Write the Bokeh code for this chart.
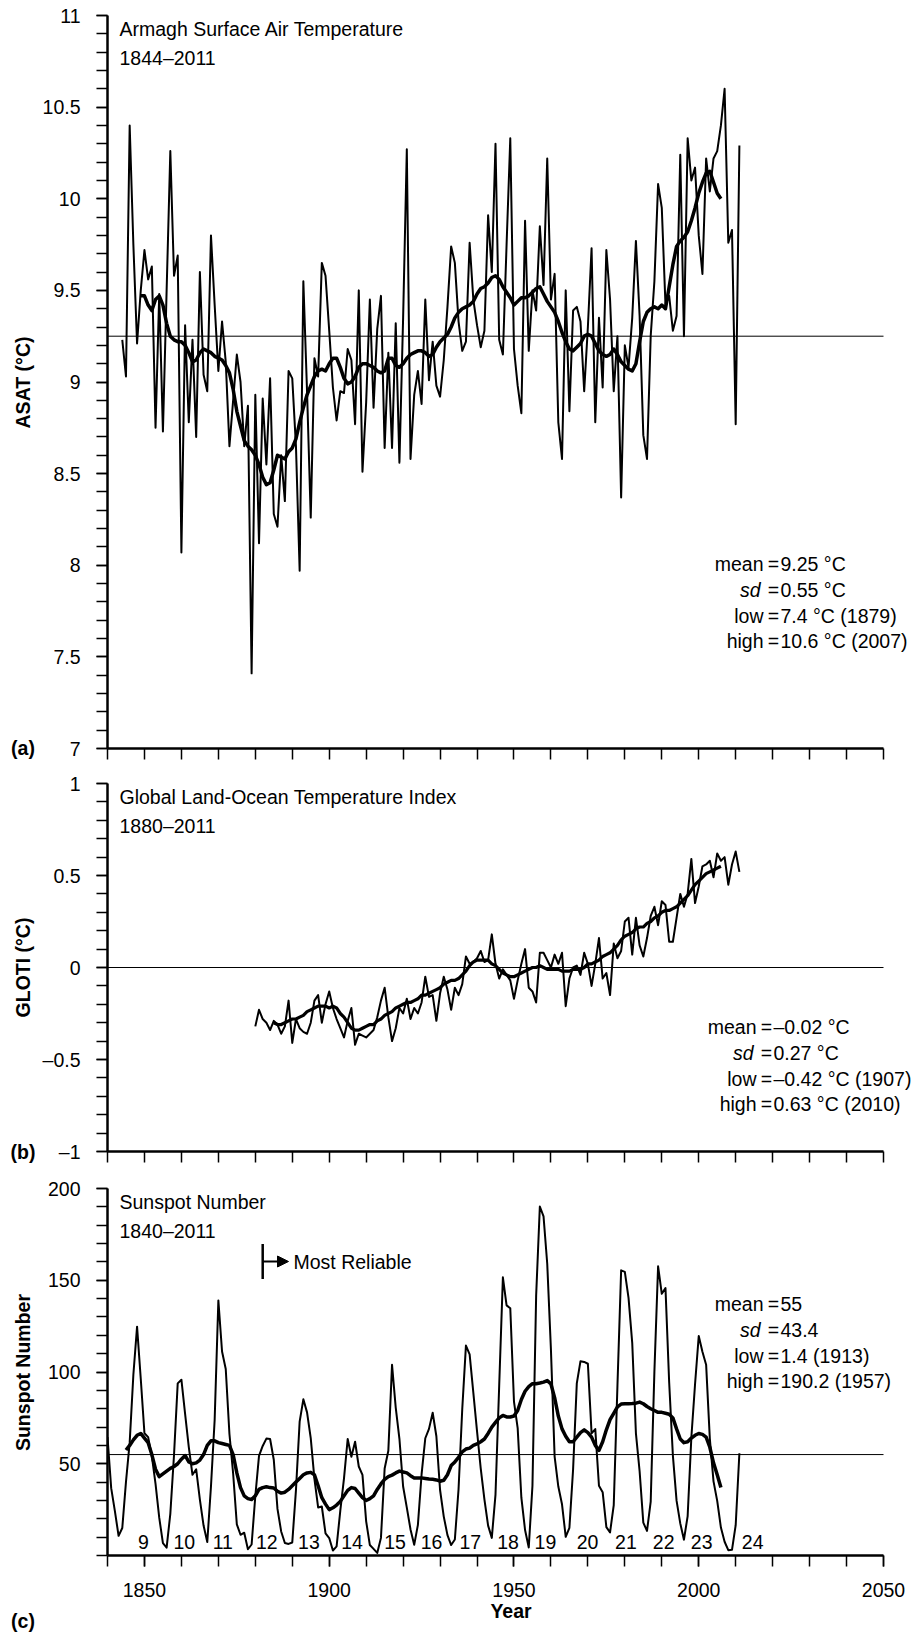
import math
from bokeh.plotting import figure
from bokeh.models import (Range1d, FixedTicker, Label, Arrow, NormalHead,
                          TeeHead, ColumnDataSource)
from bokeh.layouts import column, row
from bokeh.embed import file_html
from bokeh.resources import INLINE
from bokeh.core.properties import value

FONT = "Liberation Sans"

# ---------------- data ----------------
asat_years = list(range(1844, 2012))
asat = [
    9.23, 9.03, 10.40, 9.75, 9.21, 9.50,
    9.72, 9.56, 9.63, 8.75, 9.48, 8.73, 9.50, 10.26, 9.58, 9.69,
    8.07, 9.31, 8.78, 9.23, 8.70, 9.60, 9.04, 8.95, 9.80, 9.42,
    9.06, 9.33, 9.11, 8.65, 8.90, 9.15, 9.00, 8.65, 8.87, 7.41,
    8.93, 8.12, 8.91, 8.55, 9.02, 8.28, 8.21, 8.60, 8.35, 9.06,
    9.02, 8.65, 7.97, 9.55, 8.95, 8.26, 9.13, 9.03, 9.65, 9.58,
    9.28, 8.97, 8.79, 8.95, 8.94, 9.18, 9.12, 8.77, 9.50, 8.51,
    8.89, 9.45, 8.86, 9.29, 9.47, 8.64, 9.16, 8.64, 9.32, 8.56,
    9.35, 10.27, 8.58, 8.93, 9.06, 8.88, 9.45, 9.01, 9.22, 8.98,
    8.92, 9.12, 9.41, 9.74, 9.65, 9.33, 9.17, 9.22, 9.76, 9.45,
    9.31, 9.19, 9.28, 9.91, 9.60, 10.30, 9.23, 9.15, 9.75, 10.33,
    9.18, 8.98, 8.83, 9.88, 9.17, 9.50, 9.39, 9.85, 9.53, 10.22,
    9.45, 9.59, 8.78, 8.58, 9.50, 8.84, 9.39, 9.41, 9.33, 8.95,
    9.30, 9.73, 8.78, 9.35, 8.97, 9.72, 9.45, 8.95, 9.25, 8.37,
    9.20, 9.08, 9.35, 9.77, 9.36, 8.71, 8.58, 9.25, 9.55, 10.08,
    9.95, 9.42, 9.47, 9.28, 9.36, 10.24, 9.25, 10.33, 10.10, 10.17,
    9.80, 9.59, 10.22, 10.04, 10.22, 10.26, 10.40, 10.60, 9.76, 9.83,
    8.77, 10.29,
]
asat_smooth_years = list(range(1849, 2007))
asat_smooth = [
    9.47,
    9.47, 9.42, 9.39, 9.45, 9.47, 9.42, 9.32, 9.25, 9.23, 9.22,
    9.22, 9.20, 9.16, 9.11, 9.12, 9.16, 9.18, 9.17, 9.16, 9.14,
    9.13, 9.12, 9.09, 9.05, 8.96, 8.84, 8.76, 8.68, 8.65, 8.63,
    8.60, 8.55, 8.48, 8.44, 8.45, 8.52, 8.60, 8.59, 8.58, 8.62,
    8.64, 8.69, 8.78, 8.86, 8.93, 8.98, 9.03, 9.06, 9.07, 9.06,
    9.10, 9.13, 9.13, 9.08, 9.02, 8.99, 9.00, 9.03, 9.08, 9.10,
    9.10, 9.09, 9.08, 9.06, 9.05, 9.06, 9.13, 9.13, 9.09, 9.08,
    9.10, 9.13, 9.15, 9.16, 9.17, 9.17, 9.16, 9.14, 9.15, 9.19,
    9.22, 9.24, 9.26, 9.30, 9.35, 9.38, 9.40, 9.41, 9.42, 9.44,
    9.48, 9.51, 9.52, 9.54, 9.57, 9.58, 9.56, 9.52, 9.49, 9.46,
    9.42, 9.44, 9.46, 9.46, 9.47, 9.49, 9.51, 9.52, 9.48, 9.44,
    9.41, 9.38, 9.33, 9.27, 9.22, 9.18, 9.17, 9.19, 9.21, 9.25,
    9.26, 9.25, 9.21, 9.17, 9.15, 9.14, 9.15, 9.18, 9.15, 9.11,
    9.09, 9.07, 9.06, 9.10, 9.22, 9.33, 9.38, 9.40, 9.41, 9.40,
    9.42, 9.40, 9.52, 9.64, 9.74, 9.77, 9.79, 9.82, 9.88, 9.95,
    10.03, 10.09, 10.14, 10.15, 10.09, 10.03, 10.00,
]
asat_mean = 9.25
asat_stats = [("mean", "9.25 °C"), ("sd", "0.55 °C"),
              ("low", "7.4 °C (1879)"), ("high", "10.6 °C (2007)")]

gloti_years = list(range(1880, 2012))
gloti = [
    -0.32, -0.23, -0.28, -0.30, -0.34, -0.29, -0.31, -0.36, -0.32, -0.18,
    -0.41, -0.28, -0.33, -0.35, -0.36, -0.30, -0.18, -0.15, -0.30, -0.20,
    -0.13, -0.22, -0.28, -0.33, -0.38, -0.29, -0.22, -0.42, -0.36, -0.37,
    -0.38, -0.36, -0.34, -0.27, -0.18, -0.11, -0.27, -0.40, -0.33, -0.22,
    -0.25, -0.17, -0.28, -0.22, -0.25, -0.19, -0.05, -0.16, -0.15, -0.29,
    -0.14, -0.05, -0.12, -0.23, -0.11, -0.15, -0.09, 0.06, 0.02, 0.03,
    0.05, 0.09, 0.03, 0.04, 0.18, 0.02, -0.06, -0.01, -0.04, -0.07,
    -0.17, -0.07, 0.02, 0.10, -0.11, -0.13, -0.19, 0.08, 0.08, 0.04,
    0.00, 0.07, 0.02, 0.08, -0.21, -0.06, 0.00, 0.01, -0.04, 0.08,
    0.02, -0.10, 0.02, 0.16, -0.06, -0.03, -0.15, 0.13, 0.05, 0.09,
    0.25, 0.27, 0.07, 0.27, 0.12, 0.06, 0.16, 0.28, 0.33, 0.23,
    0.36, 0.34, 0.14, 0.14, 0.27, 0.40, 0.33, 0.40, 0.59, 0.35,
    0.44, 0.55, 0.56, 0.58, 0.49, 0.62, 0.58, 0.60, 0.45, 0.56,
    0.63, 0.52,
]
gloti_smooth_years = list(range(1885, 2007))
gloti_smooth = [
    -0.30, -0.31, -0.31, -0.30, -0.29,
    -0.28, -0.28, -0.27, -0.26, -0.24, -0.23, -0.22, -0.21, -0.21, -0.21,
    -0.22, -0.21, -0.22, -0.25, -0.27, -0.30, -0.33, -0.34, -0.34, -0.33,
    -0.32, -0.31, -0.31, -0.29, -0.28, -0.26, -0.25, -0.24, -0.22, -0.21,
    -0.20, -0.19, -0.19, -0.18, -0.17, -0.15, -0.15, -0.14, -0.13, -0.12,
    -0.11, -0.09, -0.08, -0.07, -0.07, -0.06, -0.04, -0.02, 0.01, 0.03,
    0.04, 0.04, 0.04, 0.04, 0.02, 0.01, -0.01, -0.03, -0.04, -0.05,
    -0.05, -0.04, -0.03, -0.02, -0.01, 0.00, 0.00, 0.01, 0.00, -0.01,
    -0.01, -0.01, -0.01, -0.02, -0.02, -0.02, -0.01, -0.01, -0.01, 0.00,
    0.02, 0.02, 0.03, 0.04, 0.06, 0.07, 0.08, 0.10, 0.12, 0.15,
    0.17, 0.18, 0.19, 0.21, 0.22, 0.22, 0.24, 0.25, 0.27, 0.28,
    0.30, 0.31, 0.31, 0.32, 0.33, 0.35, 0.37, 0.39, 0.42, 0.45,
    0.47, 0.49, 0.51, 0.52, 0.53, 0.54, 0.55,
]
gloti_ref = 0.0
gloti_stats = [("mean", "–0.02 °C"), ("sd", "0.27 °C"),
               ("low", "–0.42 °C (1907)"), ("high", "0.63 °C (2010)")]

ssn_years = list(range(1840, 2012))
ssn = [
    64.6, 36.7, 24.2, 10.7, 15.0, 40.1, 61.5, 98.5, 124.7, 96.3,
    66.6, 64.5, 54.1, 39.0, 20.6, 6.7, 4.3, 22.7, 54.8, 93.8,
    95.8, 77.2, 59.1, 44.0, 47.0, 30.5, 16.3, 7.3, 37.6, 74.0,
    139.0, 111.2, 101.6, 66.2, 44.7, 17.0, 11.3, 12.4, 3.4, 6.0,
    32.3, 54.3, 59.7, 63.7, 63.5, 52.2, 25.4, 13.1, 6.8, 6.3,
    7.1, 35.6, 73.0, 85.1, 78.0, 64.0, 41.8, 26.2, 26.7, 12.1,
    9.5, 2.7, 5.0, 24.4, 42.0, 63.5, 53.8, 62.0, 48.5, 43.9,
    18.6, 5.7, 3.6, 1.4, 9.6, 47.4, 57.1, 103.9, 80.6, 63.6,
    37.6, 26.1, 14.2, 5.8, 16.7, 44.3, 63.9, 69.0, 77.8, 65.0,
    35.7, 21.2, 11.1, 5.7, 8.7, 36.1, 79.7, 114.4, 109.6, 88.8,
    67.8, 47.5, 30.6, 16.3, 9.6, 33.2, 92.6, 151.6, 136.3, 134.7,
    83.9, 69.4, 31.5, 13.9, 4.4, 38.0, 141.7, 190.2, 184.8, 159.0,
    112.3, 53.9, 37.6, 27.9, 10.2, 15.1, 47.0, 93.8, 105.9, 105.5,
    104.5, 66.6, 68.9, 38.0, 34.5, 15.5, 12.6, 27.5, 92.5, 155.4,
    154.6, 140.4, 115.9, 66.6, 45.9, 17.9, 13.4, 29.4, 100.2, 157.6,
    142.6, 145.7, 94.3, 54.6, 29.9, 17.5, 8.6, 21.5, 64.3, 93.3,
    119.6, 111.0, 104.0, 63.7, 40.4, 29.8, 15.2, 7.5, 2.9, 3.1,
    16.5, 55.7,
]
ssn_smooth_years = list(range(1845, 2007))
ssn_smooth = [
    57.5, 60.0, 63.0, 65.5, 66.5,
    64.0, 61.5, 55.0, 47.0, 43.0, 44.5, 46.0, 47.5, 48.5, 50.0,
    52.5, 54.5, 51.0, 50.0, 50.5, 52.0, 55.0, 60.0, 62.5, 62.5,
    61.5, 61.0, 60.5, 60.0, 55.0, 45.0, 37.0, 32.5, 31.0, 30.5,
    32.5, 36.0, 37.0, 37.5, 37.0, 36.8, 35.0, 34.0, 34.5, 36.0,
    38.0, 40.0, 42.0, 44.0, 45.0, 45.3, 44.0, 38.0, 31.5, 28.0,
    25.0, 26.0, 27.5, 29.5, 32.5, 35.5, 37.0, 36.5, 34.0, 31.5,
    30.0, 31.0, 32.5, 36.0, 39.0, 41.5, 43.0, 43.8, 45.0, 46.0,
    45.5, 45.0, 43.5, 42.3, 42.3, 42.3, 42.0, 41.7, 41.5, 41.2,
    40.5, 41.0, 44.0, 49.0, 51.0, 53.5, 56.5, 58.0, 58.5, 60.0,
    60.8, 62.0, 63.5, 66.5, 70.0, 72.5, 75.0, 76.3, 75.5, 75.5,
    76.0, 79.0, 85.0, 89.5, 92.0, 93.6, 93.6, 94.0, 94.5, 95.3,
    93.5, 86.0, 76.0, 69.0, 65.0, 62.0, 62.0, 64.5, 67.0, 68.5,
    67.0, 64.5, 60.0, 57.3, 62.0, 68.5, 74.0, 77.5, 81.0, 82.5,
    82.7, 82.7, 82.8, 83.0, 83.6, 82.7, 81.2, 80.0, 79.0, 78.0,
    78.0, 77.5, 77.0, 75.0, 69.0, 63.5, 61.5, 62.0, 64.0, 65.5,
    66.5, 66.0, 64.5, 59.0, 50.5, 44.0, 37.0,
]
ssn_mean = 55
ssn_stats = [("mean", "55"), ("sd", "43.4"), ("low", "1.4 (1913)"),
             ("high", "190.2 (1957)")]
cycle_labels = ["9", "10", "11", "12", "13", "14", "15", "16", "17", "18",
                "19", "20", "21", "22", "23", "24"]
cycle_label_years = [1849.7, 1860.8, 1871.2, 1883.1, 1894.5, 1906.2, 1917.8,
                     1927.7, 1938.2, 1948.4, 1958.5, 1969.9, 1980.3, 1990.5,
                     2000.8, 2014.6]
reliable_year = 1882

x_major = [1850, 1900, 1950, 2000, 2050]
x_minor = list(range(1840, 2051, 10))

panel_tags = ["(a)", "(b)", "(c)"]
y_titles = ["ASAT (°C)", "GLOTI (°C)", "Sunspot Number"]

# ---------------- layout helpers ----------------
PAGE_W, PAGE_H = 914, 1633
GUT = 35                      # left gutter figure width
LEFT = 107 - GUT              # border left of main frames
MAIN_W = PAGE_W - GUT
X0, X1 = 1840, 2050
PX_PER_YEAR = 776 / (X1 - X0)
X_END = X0 + (PAGE_W - 107) / PX_PER_YEAR
TXT = "19.5px"
PAD = 10                      # frame space above the top tick


def px_x(px):
    return X0 + (px - 107) / PX_PER_YEAR


def make_fig(top, core_h, bottom, y0, y1, yticks, yminor, ylab_map,
             show_xlabels):
    upp = (y1 - y0) / core_h
    p = figure(width=MAIN_W, height=top + core_h + PAD + bottom,
               x_range=Range1d(X0, X_END),
               y_range=Range1d(y0, y1 + PAD * upp),
               output_backend="svg", toolbar_location=None, title=None,
               min_border_left=LEFT, min_border_right=0,
               min_border_top=top, min_border_bottom=bottom)
    p.outline_line_color = None
    p.xgrid.visible = False
    p.ygrid.visible = False
    for ax in (p.xaxis[0], p.yaxis[0]):
        ax.axis_line_width = 2.5
        ax.axis_line_color = "black"
        ax.major_tick_line_width = 1.5
        ax.minor_tick_line_width = 1.5
        ax.major_tick_line_color = "black"
        ax.minor_tick_line_color = "black"
        ax.major_tick_out = 11
        ax.major_tick_in = 0
        ax.minor_tick_out = 11
        ax.minor_tick_in = 0
        ax.major_label_text_font = FONT
        ax.major_label_text_font_size = TXT
        ax.major_label_text_color = "black"
        ax.major_label_standoff = 16
    xa = p.xaxis[0]
    xa.bounds = (X0, X1)
    if show_xlabels:
        xa.ticker = FixedTicker(ticks=x_major, minor_ticks=x_minor)
    else:
        xa.ticker = FixedTicker(ticks=[], minor_ticks=x_minor)
    ya = p.yaxis[0]
    ya.bounds = (y0, y1)
    ya.ticker = FixedTicker(ticks=yticks, minor_ticks=yminor)
    ya.major_label_overrides = ylab_map
    return p, upp


def txt(p, x, y, text, align="left", baseline="alphabetic", style="normal",
        angle=0.0):
    p.add_layout(Label(x=x, y=y, text=text, text_font=FONT,
                       text_font_size=TXT, text_color="black",
                       text_align=align, text_baseline=baseline,
                       text_font_style=style, angle=angle))


def titles(p, ytop, upp, line1, line2):
    txt(p, px_x(119), ytop - 13 * upp, line1)
    txt(p, px_x(119), ytop - 42 * upp, line2)


def stats(p, ytop, upp, rows, offs, shift=0):
    for (word, val), off in zip(rows, offs):
        y = ytop - off * upp
        italic = word == "sd"
        txt(p, px_x((760 if italic else 763) + shift), y, word, align="right",
            style="italic" if italic else "normal")
        txt(p, px_x(773 + shift), y, "=", align="center")
        txt(p, px_x(780 + shift), y, val)


def ref_line(p, yv):
    p.segment(x0=[X0], x1=[X1], y0=[yv], y1=[yv], line_color="black",
              line_width=1)


# ---------------- panel (a) ----------------
a_major = [7 + 0.5 * i for i in range(9)]
a_minor = [round(7 + 0.1 * i, 1) for i in range(41)]
a_lab = {t: ("%g" % t) for t in a_major}
pa, upp_a = make_fig(5, 733, 20, 7, 11, a_major, a_minor, a_lab, False)
ref_line(pa, asat_mean)
pa.line(asat_years, asat, line_color="black", line_width=2,
        line_join="round")
pa.line(asat_smooth_years, asat_smooth, line_color="black", line_width=3.5,
        line_join="round")
titles(pa, 11, upp_a, "Armagh Surface Air Temperature", "1844–2011")
stats(pa, 11, upp_a, asat_stats, [548, 574, 600, 625])

# ---------------- panel (b) ----------------
b_major = [-1, -0.5, 0, 0.5, 1]
b_minor = [round(-1 + 0.1 * i, 1) for i in range(21)]
b_lab = {t: ("%g" % t).replace("-", "–") for t in b_major}
pb, upp_b = make_fig(5, 368, 20, -1, 1, b_major, b_minor, b_lab, False)
ref_line(pb, gloti_ref)
pb.line(gloti_years, gloti, line_color="black", line_width=2,
        line_join="round")
pb.line(gloti_smooth_years, gloti_smooth, line_color="black", line_width=3.2,
        line_join="round")
titles(pb, 1, upp_b, "Global Land-Ocean Temperature Index", "1880–2011")
stats(pb, 1, upp_b, gloti_stats, [243.5, 269.5, 295, 320], shift=-7)

# ---------------- panel (c) ----------------
c_major = [50, 100, 150, 200]
c_minor = list(range(0, 201, 10))
c_lab = {50: "50", 100: "100", 150: "150", 200: "200"}
pc, upp_c = make_fig(7, 367, 78, 0, 200, c_major, c_minor, c_lab, True)
xc = pc.xaxis[0]
xc.axis_label = "Year"
xc.axis_label_text_font = FONT
xc.axis_label_text_font_size = TXT
xc.axis_label_text_font_style = "bold"
xc.axis_label_text_color = "black"
xc.axis_label_standoff = 0
ref_line(pc, ssn_mean)
pc.line(ssn_years, ssn, line_color="black", line_width=2, line_join="round")
pc.line(ssn_smooth_years, ssn_smooth, line_color="black", line_width=3.5,
        line_join="round")
titles(pc, 200, upp_c, "Sunspot Number", "1840–2011")
stats(pc, 200, upp_c, ssn_stats, [115.5, 141.5, 167.5, 192.5])
src = ColumnDataSource(dict(x=cycle_label_years,
                            y=[7.3] * len(cycle_labels), t=cycle_labels))
pc.text(x="x", y="y", text="t", source=src, text_font=value(FONT),
        text_font_size=value(TXT), text_align="center",
        text_baseline="alphabetic", text_color="black")
arrow_y = 200 - 73 * upp_c
pc.add_layout(Arrow(x_start=reliable_year, y_start=arrow_y,
                    x_end=px_x(288), y_end=arrow_y, line_width=2,
                    line_color="black",
                    start=TeeHead(size=35, line_width=2.5, line_color="black"),
                    end=NormalHead(size=11, fill_color="black",
                                   line_color="black")))
txt(pc, px_x(293), arrow_y, "Most Reliable", baseline="middle")

# ---------------- left gutter (panel tags, y titles) ----------------
g = figure(width=GUT, height=PAGE_H, x_range=Range1d(0, GUT),
           y_range=Range1d(0, PAGE_H), output_backend="svg",
           toolbar_location=None, title=None, x_axis_location=None,
           y_axis_location=None, min_border=0)
g.outline_line_color = None
g.xgrid.visible = False
g.ygrid.visible = False
for tag, ty in zip(panel_tags, [747, 1151, 1620]):
    txt(g, 22.5, PAGE_H - ty, tag, align="center", baseline="middle",
        style="bold")
for name, ty in zip(y_titles, [382, 967, 1372]):
    txt(g, 22.5, PAGE_H - ty, name, align="center", baseline="middle",
        style="bold", angle=math.pi / 2)

layout = row(g, column(pa, pb, pc, spacing=0), spacing=0)
open("out.html", "w").write(file_html(layout, INLINE))
